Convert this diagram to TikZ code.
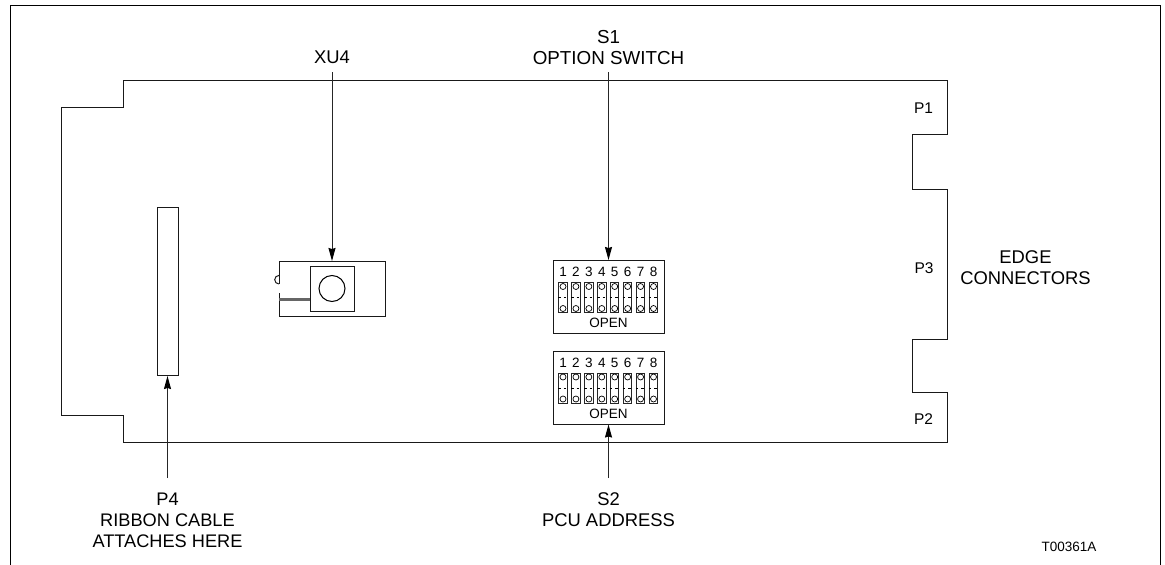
\documentclass[tikz,border=0pt]{standalone}
\usepackage{fontspec}
\setmainfont{Liberation Sans}
\usetikzlibrary{arrows.meta}
\tikzset{
  ln/.style={line width=1pt,black!90},
  lab/.style={align=center,inner sep=0pt,font=\fontsize{18.4}{21}\selectfont},
  labs/.style={align=center,inner sep=0pt,font=\fontsize{15.5}{18}\selectfont},
  digit/.style={inner sep=0pt,font=\fontsize{13.5}{16}\selectfont},
  box/.style={draw=black!90,line width=1pt,inner sep=0pt,minimum width=#1},
  arr/.style={line width=1pt,black!85,-{Stealth[length=13pt,width=7pt,inset=1pt,black]}},
  dipsw/.style={draw=black!85,line width=1pt,inner sep=0pt,minimum width=8.5pt,minimum height=30pt},
}
\newcommand{\dipsw}[2]{% top y of box, name
  \node[box=111pt,minimum height=73pt,anchor=north] (#2) at (608.5,#1) {};
  \foreach \i in {1,...,8}{
    \pgfmathsetmacro{\xx}{563+(\i-1)*12.93}
    \node[digit] (#2d\i) at (\xx,#1+12) {\i};
    \node[dipsw] (#2s\i) at (\xx,#1+37.5) {};
    \draw[line width=.7pt] (\xx,#1+26.5) circle (3pt);
    \draw[line width=.7pt] (\xx,#1+48.5) circle (3pt);
    \draw[line width=.5pt,dash pattern=on 2.5pt off 3pt] (#2s\i.west) -- (#2s\i.east);
  }
  \node[digit] (#2open) at (608.5,#1+63) {OPEN};
}
\begin{document}
\begin{tikzpicture}[x=1pt,y=-1pt]
\useasboundingbox (0,0) rectangle (1165,565);
% frame
\draw[line width=1.1pt] (10.5,565) -- (10.5,5.5) -- (1160.5,5.5) -- (1160.5,565);
% board
\draw[ln] (123,80) -- (947,80) -- (947,134) -- (912,134) -- (912,189) -- (947,189) -- (947,339) -- (912,339) -- (912,392) -- (947,392) -- (947,442) -- (123,442) -- (123,415.5) -- (61.5,415.5) -- (61.5,107) -- (123,107) -- cycle;
% P4 connector
\node[box=21pt,minimum height=168pt,anchor=north] (p4box) at (167.5,207) {};
% XU4
\node[box=106pt,minimum height=55pt,anchor=north] (xu4box) at (332,261) {};
\node[box=44pt,minimum height=45pt,anchor=north] (xu4inner) at (332,266) {};
\node[draw,line width=1pt,circle,minimum size=26pt,inner sep=0pt] (xu4circle) at (332,288.5) {};
\draw[line width=3pt,black!60] (xu4box.west |- 0,299) -- (xu4inner.west |- 0,299);
\fill[white] (280,284) rectangle (278,292.5);
\draw[ln] (279,284) arc (90:270:4.3);
% DIP switches
\dipsw{260}{sone}
\dipsw{350.5}{stwo}
% labels
\node[lab] (xu4lab) at (332,57.5) {XU4};
\node[lab,font=\fontsize{18.8}{21}\selectfont] (s1lab) at (608.5,47.5) {S1\\OPTION SWITCH};
\node[lab] (s2lab) at (608.5,510) {S2\\PCU ADDRESS};
\node[lab,font=\fontsize{18.2}{21}\selectfont] (p4lab) at (167.5,520) {P4\\RIBBON CABLE\\ATTACHES HERE};
\node[labs] (p1) at (923.5,108) {P1};
\node[labs] (p3) at (924,268) {P3};
\node[labs] (p2) at (923.5,419) {P2};
\node[lab] (edge) at (1025.5,268) {EDGE\\CONNECTORS};
\node[digit] (tnum) at (1069,547) {T00361A};
% arrows
\coordinate (xu4tail) at (332,72);
\coordinate (s1tail) at (608.5,72);
\coordinate (s2tail) at (608.5,478);
\coordinate (p4tail) at (167.5,478);
\draw[arr] (xu4tail) -- (xu4box.north);
\draw[arr] (s1tail) -- (sone.north);
\draw[arr] (s2tail) -- (stwo.south);
\draw[arr] (p4tail) -- (p4box.south);
\end{tikzpicture}
\end{document}
